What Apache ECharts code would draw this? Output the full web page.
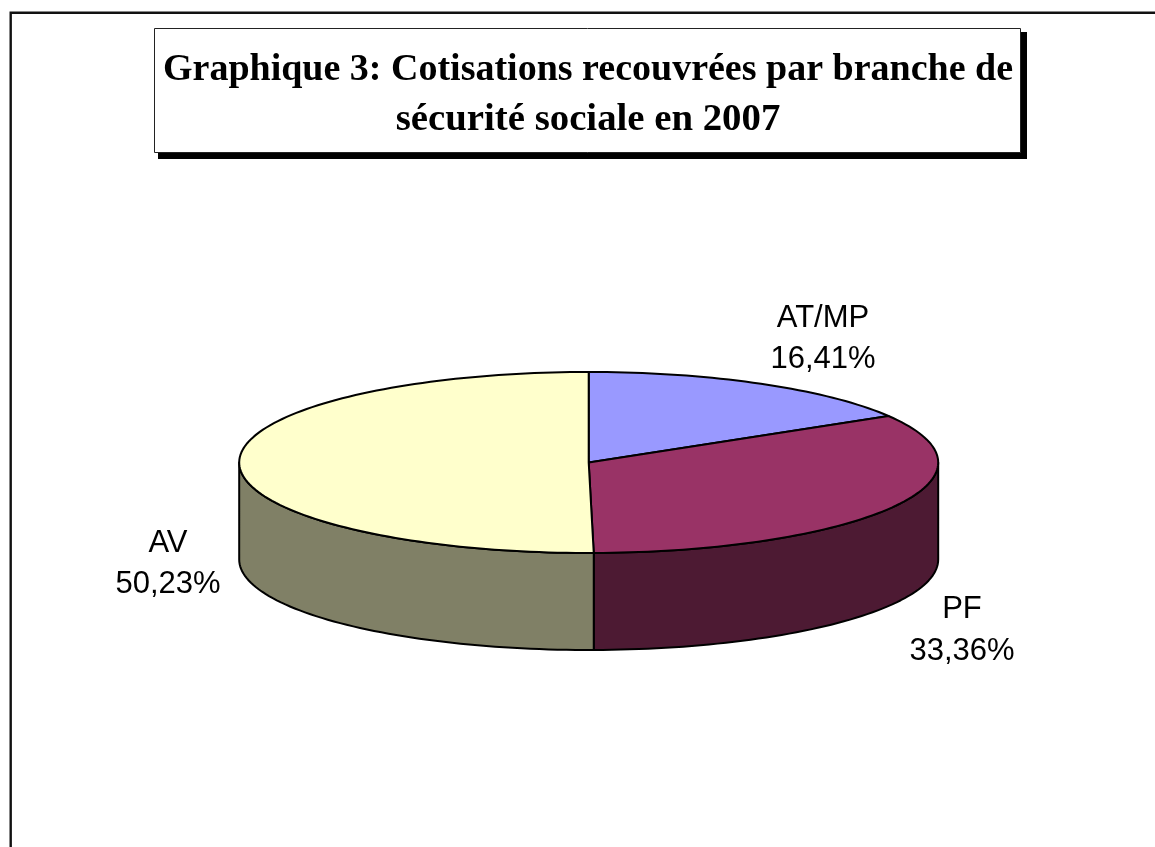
<!DOCTYPE html>
<html>
<head>
<meta charset="utf-8">
<title>Graphique 3</title>
<style>
  html, body { margin: 0; padding: 0; background: #fff; }
  #chart { width: 1155px; height: 847px; }
</style>
<script src="https://cdn.jsdelivr.net/npm/echarts@6/dist/echarts.min.js"></script>
</head>
<body>
<div id="chart"></div>
<script>
// Données
const categories = ['AT/MP', 'PF', 'AV'];
const values = [16.41, 33.36, 50.23];
const topColors = ['#9999FF', '#993366', '#FFFFCC'];
const sideColors = ['#4D4D80', '#4D1A33', '#808066'];
const titleLine1 = 'Graphique 3: Cotisations recouvrées par branche de';
const titleLine2 = 'sécurité sociale en 2007';

// Géométrie du camembert
const cx = 588.7, cy = 462.5, rx = 349.5, ry = 90.5, depth = 97;
// centre des étiquettes
const labelPos = [[823, 339], [962, 630.5], [168, 564]];

const total = values.reduce((sum, v) => sum + v, 0);
const rad = deg => deg * Math.PI / 180;

// point de l'ellipse, angle compté depuis midi dans le sens horaire
const ellipsePoint = (deg, dy) => [cx + rx * Math.sin(rad(deg)), cy + dy - ry * Math.cos(rad(deg))];

const arc = (from, to, dy) => {
  const pts = [];
  const steps = Math.max(2, Math.ceil((to - from) / 1.5));
  for (let i = 0; i <= steps; i++) {
    pts.push(ellipsePoint(from + (to - from) * i / steps, dy));
  }
  return pts;
};

const edgeStyle = { stroke: '#000', lineWidth: 2, lineJoin: 'round' };

function renderSlice(params, api) {
  const i = params.dataIndex;
  const start = api.value(1) / total * 360;
  const end = api.value(2) / total * 360;
  const children = [];

  // face latérale : seulement la moitié avant du disque
  const sideFrom = Math.max(start, 90);
  const sideTo = Math.min(end, 270);
  if (sideTo > sideFrom) {
    const points = arc(sideFrom, sideTo, 0).concat(arc(sideFrom, sideTo, depth).reverse());
    children.push({
      type: 'polygon',
      shape: { points },
      style: Object.assign({ fill: sideColors[i] }, edgeStyle)
    });
  }

  // face supérieure
  children.push({
    type: 'polygon',
    shape: { points: [[cx, cy]].concat(arc(start, end, 0)) },
    style: Object.assign({ fill: topColors[i] }, edgeStyle)
  });

  // étiquette
  children.push({
    type: 'text',
    z2: 10,
    style: {
      x: labelPos[i][0],
      y: labelPos[i][1],
      text: categories[i] + '\n' + api.value(0).toFixed(2).replace('.', ',') + '%',
      font: '31px "Liberation Sans", Arial, sans-serif',
      lineHeight: 41.5,
      fill: '#000',
      align: 'center',
      verticalAlign: 'middle'
    }
  });

  return { type: 'group', children };
}

// cumul des parts pour les angles de chaque tranche
let cumul = 0;
const sliceData = values.map((v, i) => {
  const row = { name: categories[i], value: [v, cumul, cumul + v] };
  cumul += v;
  return row;
});

const titleFont = '"Liberation Serif", "Times New Roman", serif';

const chart = echarts.init(document.getElementById('chart'), null, { renderer: 'canvas' });
chart.setOption({
  animation: false,
  backgroundColor: '#fff',
  title: {
    text: '{a|' + titleLine1 + '}\n{b|' + titleLine2 + '}',
    left: 588,
    top: 45,
    textAlign: 'center',
    padding: 0,
    textStyle: {
      rich: {
        a: { fontFamily: titleFont, fontWeight: 'bold', fontSize: 38, lineHeight: 50, color: '#000' },
        // la seconde ligne est un peu plus large sur l'original
        b: { fontFamily: titleFont, fontWeight: 'bold', fontSize: 38.8, lineHeight: 50, color: '#000' }
      }
    }
  },
  graphic: [
    // cadre : haut et gauche seulement, le reste sort de l'image
    {
      type: 'polyline',
      shape: { points: [[10.7, 847], [10.7, 12.7], [1155, 12.7]] },
      style: { stroke: '#111', lineWidth: 2.4, fill: null }
    },
    // ombre et boîte du titre
    {
      type: 'rect',
      z: -2,
      shape: { x: 158, y: 32, width: 869, height: 127 },
      style: { fill: '#000' }
    },
    {
      type: 'rect',
      z: -1,
      shape: { x: 154.5, y: 28.5, width: 866, height: 124 },
      style: { fill: '#fff', stroke: '#222', lineWidth: 1 }
    }
  ],
  series: [{
    type: 'custom',
    coordinateSystem: 'none',
    renderItem: renderSlice,
    encode: { value: [0] },
    data: sliceData
  }]
});
</script>
</body>
</html>
